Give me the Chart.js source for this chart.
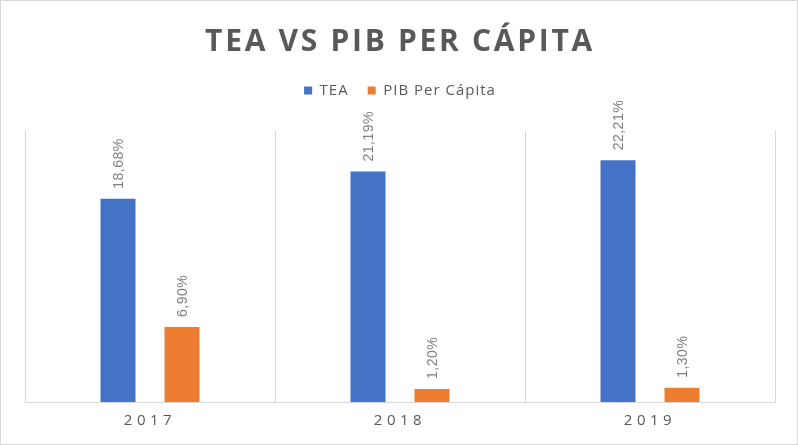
<!DOCTYPE html>
<html><head><meta charset="utf-8">
<script src="https://cdn.jsdelivr.net/npm/chart.js@4/dist/chart.umd.min.js"></script>
<style>
html,body{margin:0;padding:0;background:#fff;}
#wrap{width:798px;height:445px;box-sizing:border-box;border:1px solid #d9d9d9;background:#fff;}
canvas{display:block;}
</style></head><body>
<div id="wrap"><canvas id="c" width="796" height="443"></canvas></div>
<script>
const categories = ['2017', '2018', '2019'];
const teaValues = [18.68, 21.19, 22.21];
const pibValues = [6.90, 1.20, 1.30];
const seriesNames = ['TEA', 'PIB Per Cápita'];
const chartTitle = 'TEA VS PIB PER CÁPITA';
const yMax = 25;

const TEXT_GRAY = '#595959';
const LABEL_GRAY = '#808080';
const LEGEND_EXTRA = 22;

function withSpacing(obj, method, spacing) {
  if (!obj || obj['_sp_' + method]) return;
  const orig = obj[method];
  obj[method] = function (...args) {
    const ctx = this.ctx;
    ctx.save();
    ctx.letterSpacing = spacing + 'px';
    const r = orig.apply(this, args);
    ctx.restore();
    return r;
  };
  obj['_sp_' + method] = true;
}

const layoutTweaks = {
  id: 'layoutTweaks',
  beforeLayout(chart) {
    const lg = chart.legend;
    if (lg && !lg._fitWrapped) {
      const f = lg.fit;
      lg.fit = function () {
        const ctx = this.ctx;
        ctx.save();
        ctx.letterSpacing = '1px';
        f.call(this);
        ctx.restore();
        this.height += LEGEND_EXTRA;
      };
      lg._fitWrapped = true;
    }
    withSpacing(lg, 'draw', 1);
    withSpacing(chart.titleBlock, 'draw', 2.7);
    withSpacing(chart.scales.x, 'drawLabels', 4.5);
  }
};

const barLabels = {
  id: 'barLabels',
  afterDatasetsDraw(chart) {
    const ctx = chart.ctx;
    ctx.save();
    ctx.font = '14px "Liberation Sans"';
    ctx.fillStyle = LABEL_GRAY;
    ctx.letterSpacing = '0.5px';
    chart.data.datasets.forEach((ds, di) => {
      const meta = chart.getDatasetMeta(di);
      meta.data.forEach((bar, i) => {
        const txt = ds.data[i].toFixed(2).replace('.', ',') + '%';
        ctx.save();
        ctx.translate(bar.x + 1, bar.y - 10);
        ctx.rotate(-Math.PI / 2);
        ctx.textAlign = 'left';
        ctx.textBaseline = 'middle';
        ctx.fillText(txt, 0, 0);
        ctx.restore();
      });
    });
    ctx.restore();
  }
};

Chart.defaults.font.family = '"Open Sans", sans-serif';

new Chart(document.getElementById('c'), {
  type: 'bar',
  data: {
    labels: categories,
    datasets: [
      { label: seriesNames[0], data: teaValues, backgroundColor: '#4472C4', borderWidth: 0,
        categoryPercentage: 0.512, barPercentage: 0.547 },
      { label: seriesNames[1], data: pibValues, backgroundColor: '#ED7D31', borderWidth: 0,
        categoryPercentage: 0.512, barPercentage: 0.547 }
    ]
  },
  options: {
    responsive: false,
    animation: false,
    devicePixelRatio: 1,
    layout: { padding: { top: 0, left: 24, right: 22, bottom: 4 } },
    plugins: {
      title: {
        display: true,
        text: chartTitle,
        color: TEXT_GRAY,
        font: { family: '"Open Sans", sans-serif', size: 30, weight: 'bold' },
        padding: { top: 23, bottom: 4 }
      },
      legend: {
        display: true,
        position: 'top',
        labels: {
          boxWidth: 8,
          boxHeight: 8,
          padding: 19,
          color: TEXT_GRAY,
          font: { family: '"Open Sans", sans-serif', size: 15 }
        }
      },
      tooltip: { enabled: false }
    },
    scales: {
      x: {
        grid: { display: true, offset: true, color: '#d9d9d9', lineWidth: 1, drawTicks: false },
        border: { display: true, color: '#d9d9d9', width: 1 },
        ticks: { color: TEXT_GRAY, padding: 10, font: { family: '"Open Sans", sans-serif', size: 15 } }
      },
      y: {
        display: false,
        min: 0,
        max: yMax
      }
    }
  },
  plugins: [layoutTweaks, barLabels]
});
</script>
</body></html>
